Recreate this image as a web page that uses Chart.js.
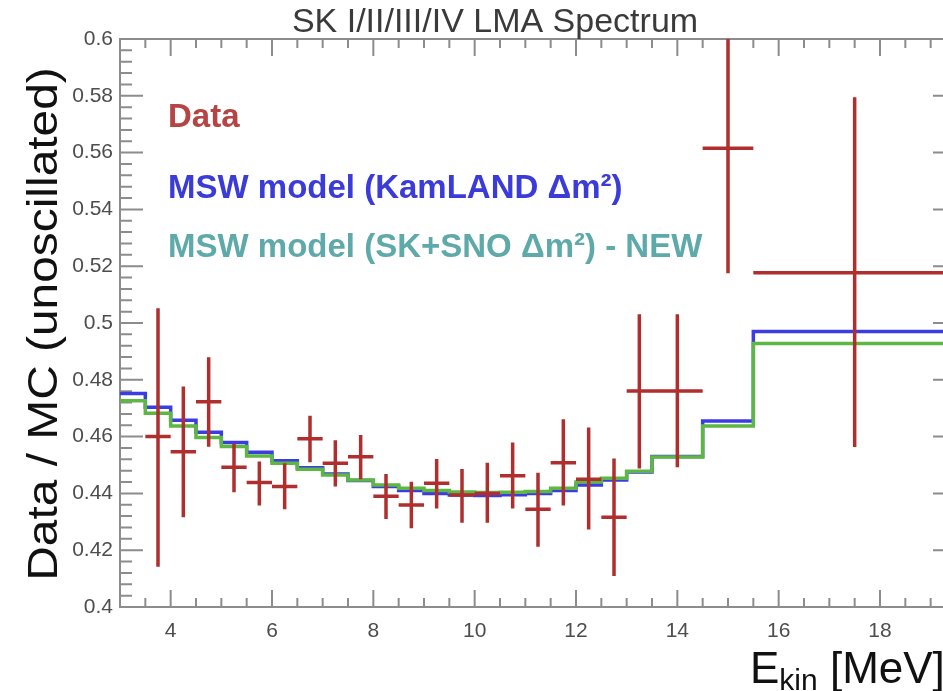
<!DOCTYPE html>
<html>
<head>
<meta charset="utf-8">
<script src="https://cdn.jsdelivr.net/npm/chart.js@4.4.1/dist/chart.umd.min.js"></script>
<style>
  html, body { margin: 0; padding: 0; background: #fff; overflow: hidden; }
  .vis-container { position: relative; width: 956px; height: 691px; }
</style>
</head>
<body>
<div class="vis-container"><canvas id="vis"></canvas></div>
<script>

// data points: bin centre, half bin width, ratio and error bar ends
const dataE = [3.75, 4.25, 4.75, 5.25, 5.75, 6.25, 6.75, 7.25, 7.75, 8.25,
               8.75, 9.25, 9.75, 10.25, 10.75, 11.25, 11.75, 12.25, 12.75, 13.25,
               14, 15, 17.5];
const dataHalfWidth = [0.25, 0.25, 0.25, 0.25, 0.25, 0.25, 0.25, 0.25, 0.25, 0.25,
                       0.25, 0.25, 0.25, 0.25, 0.25, 0.25, 0.25, 0.25, 0.25, 0.25,
                       0.5, 0.5, 2];
const dataRatio = [0.4600, 0.4547, 0.4723, 0.4492, 0.4438, 0.4424, 0.4592, 0.4506, 0.4529, 0.4390,
                   0.4359, 0.4436, 0.4394, 0.4400, 0.4462, 0.4344, 0.4508, 0.4450, 0.4316, 0.4761,
                   0.4761, 0.5615, 0.5177];
const dataLow = [0.4142, 0.4316, 0.4564, 0.4404, 0.4357, 0.4344, 0.4510, 0.4424, 0.4450, 0.4310,
                 0.4277, 0.4347, 0.4297, 0.4297, 0.4347, 0.4212, 0.4357, 0.4273, 0.4109, 0.4488,
                 0.4492, 0.5175, 0.4563];
const dataHigh = [0.5052, 0.4776, 0.4879, 0.4576, 0.4512, 0.4506, 0.4673, 0.4587, 0.4606, 0.4468,
                  0.4441, 0.4521, 0.4486, 0.4508, 0.4579, 0.4473, 0.4661, 0.4632, 0.4523, 0.5031,
                  0.5031, 0.6200, 0.5795];

// MC histograms (bin edges, one value per bin)
const mcEdges = [3.0, 3.5, 4.0, 4.5, 5.0, 5.5, 6.0, 6.5, 7.0, 7.5, 8.0, 8.5, 9.0,
                 9.5, 10.0, 10.5, 11.0, 11.5, 12.0, 12.5, 13.0, 13.5, 14.5, 15.5, 19.5];
const mcKamLAND = [0.4752, 0.4703, 0.4658, 0.4615, 0.4579, 0.4545, 0.4515, 0.4490, 0.4468, 0.4445,
                   0.4424, 0.4410, 0.4400, 0.4394, 0.4393, 0.4395, 0.4400, 0.4410, 0.4430, 0.4447,
                   0.4475, 0.4530, 0.4655, 0.4970];
const mcSKSNO = [0.4726, 0.4682, 0.4637, 0.4597, 0.4565, 0.4532, 0.4506, 0.4485, 0.4465, 0.4447,
                 0.4430, 0.4418, 0.4410, 0.4405, 0.4403, 0.4404, 0.4407, 0.4418, 0.4440, 0.4453,
                 0.4478, 0.4528, 0.4637, 0.4928];

const xTicks = [4, 6, 8, 10, 12, 14, 16, 18];
const yTicks = [0.4, 0.42, 0.44, 0.46, 0.48, 0.5, 0.52, 0.54, 0.56, 0.58, 0.6];

const legendItems = ['Data', 'MSW model (KamLAND \u0394m\u00b2)', 'MSW model (SK+SNO \u0394m\u00b2) - NEW'];
const legendColors = ['#b54444', '#3b3bd9', '#5ea9a9'];

const FONT = '"Liberation Sans", Arial, Helvetica, sans-serif';

function steps(values) {
    const pts = values.map((v, i) => ({x: mcEdges[i], y: v}));
    pts.push({x: mcEdges[mcEdges.length - 1], y: values[values.length - 1]});
    return pts;
}

// each point -> vertical bar + horizontal bar, split by gaps
function crosses() {
    const pts = [];
    dataE.forEach((e, i) => {
        pts.push({x: e, y: dataLow[i]}, {x: e, y: dataHigh[i]}, {x: e, y: null});
        pts.push({x: e - dataHalfWidth[i], y: dataRatio[i]},
                 {x: e + dataHalfWidth[i], y: dataRatio[i]}, {x: e, y: null});
    });
    return pts;
}

const rootFrame = {
    id: 'rootFrame',
    beforeDatasetsDraw(chart) {
        const {ctx, chartArea: a, scales: {x, y}} = chart;
        ctx.save();
        ctx.strokeStyle = '#8c8c8c';
        ctx.lineWidth = 2;
        ctx.beginPath();
        // x ticks every 0.5, major on labelled values
        for (let k = 0; k <= 33; k++) {
            const v = 3 + k * 0.5;
            const px = x.getPixelForValue(v);
            const len = xTicks.includes(v) ? 17 : 9;
            ctx.moveTo(px, a.bottom); ctx.lineTo(px, a.bottom - len);
            ctx.moveTo(px, a.top); ctx.lineTo(px, a.top + len);
        }
        // y ticks every 0.004
        for (let k = 0; k <= 50; k++) {
            const py = y.getPixelForValue(0.4 + k * 0.004);
            const len = k % 5 === 0 ? 23 : 12;
            ctx.moveTo(a.left, py); ctx.lineTo(a.left + len, py);
            ctx.moveTo(a.right, py); ctx.lineTo(a.right - len, py);
        }
        ctx.stroke();
        ctx.strokeRect(a.left, a.top, a.right - a.left, a.bottom - a.top);
        ctx.restore();
    },
    afterDraw(chart) {
        const ctx = chart.ctx;
        ctx.save();

        // title
        ctx.fillStyle = '#3a3a3a';
        ctx.font = '34px ' + FONT;
        ctx.textAlign = 'center';
        ctx.textBaseline = 'alphabetic';
        ctx.fillText('SK I/II/III/IV LMA Spectrum', 495, 32);

        // y title (stretched a bit along the text, like the original)
        ctx.save();
        ctx.translate(57, 324);
        ctx.rotate(-Math.PI / 2);
        ctx.scale(1.14, 1);
        ctx.fillStyle = '#111';
        ctx.font = '42px ' + FONT;
        ctx.fillText('Data / MC (unoscillated)', 0, 0);
        ctx.restore();

        // x title E_kin [MeV]
        ctx.fillStyle = '#111';
        ctx.textAlign = 'left';
        ctx.font = '44px ' + FONT;
        let xx = 750;
        ctx.fillText('E', xx, 683);
        xx += ctx.measureText('E').width;
        ctx.font = '30px ' + FONT;
        ctx.fillText('kin', xx, 690);
        xx += ctx.measureText('kin').width;
        ctx.font = '44px ' + FONT;
        ctx.fillText(' [MeV]', xx, 683);

        // legend
        ctx.font = 'bold 33px ' + FONT;
        const base = [127, 198, 257];
        legendItems.forEach((t, i) => {
            ctx.fillStyle = legendColors[i];
            ctx.fillText(t, 168, base[i]);
        });

        ctx.restore();
    }
};

const chart = new Chart(document.getElementById('vis'), {
    type: 'line',
    data: {
        datasets: [
            {
                label: 'Data',
                data: crosses(),
                borderColor: '#b02e2e',
                borderWidth: 3.5,
                pointRadius: 0,
                spanGaps: false,
                clip: 0,
                order: 0
            },
            {
                label: 'SK+SNO',
                data: steps(mcSKSNO),
                stepped: 'before',
                borderColor: '#5cb842',
                borderWidth: 3.5,
                pointRadius: 0,
                clip: 0,
                order: 1
            },
            {
                label: 'KamLAND',
                data: steps(mcKamLAND),
                stepped: 'before',
                borderColor: '#3c3ce4',
                borderWidth: 3.5,
                pointRadius: 0,
                clip: 0,
                order: 2
            }
        ]
    },
    options: {
        responsive: true,
        maintainAspectRatio: false,
        animation: false,
        layout: { padding: { top: 39, right: 0, bottom: 0, left: 0 } },
        plugins: {
            legend: { display: false },
            tooltip: { enabled: false }
        },
        scales: {
            x: {
                type: 'linear',
                min: 3,
                max: 19.5,
                grid: { display: false, drawTicks: false },
                border: { display: false },
                afterFit: s => { s.height = 84; },
                afterBuildTicks: s => { s.ticks = xTicks.map(v => ({value: v})); },
                ticks: {
                    padding: 12,
                    maxRotation: 0,
                    autoSkip: false,
                    color: '#4d4d4d',
                    font: { family: FONT, size: 21 }
                }
            },
            y: {
                type: 'linear',
                min: 0.4,
                max: 0.6,
                grid: { display: false, drawTicks: false },
                border: { display: false },
                afterFit: s => { s.width = 120; },
                afterBuildTicks: s => { s.ticks = yTicks.map(v => ({value: v})); },
                ticks: {
                    padding: 7,
                    autoSkip: false,
                    color: '#4d4d4d',
                    font: { family: FONT, size: 21 },
                    callback: v => String(+v.toFixed(2))
                }
            }
        }
    },
    plugins: [rootFrame]
});

</script>
</body>
</html>
